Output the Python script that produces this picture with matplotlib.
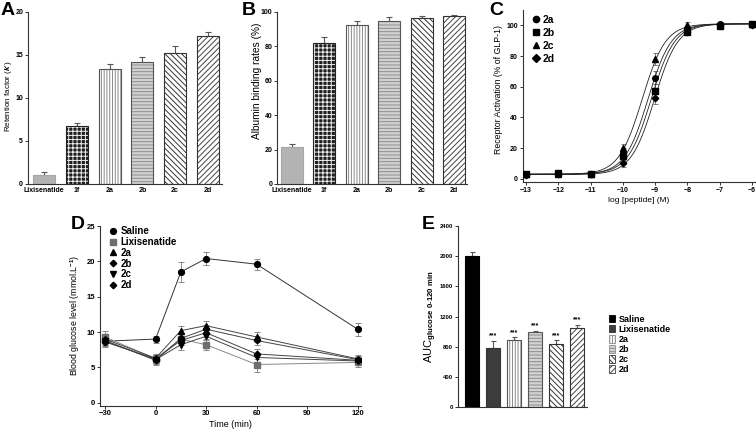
import numpy as np
from matplotlib import pyplot as plt
from matplotlib.patches import Patch
from matplotlib.lines import Line2D

plt.rcParams['font.family'] = ['Liberation Sans', 'DejaVu Sans']
plt.rcParams['font.weight'] = 'bold'
plt.rcParams['mathtext.fontset'] = 'custom'
plt.rcParams['mathtext.rm'] = 'Liberation Sans:bold'
plt.rcParams['mathtext.bf'] = 'Liberation Sans:bold'
plt.rcParams['mathtext.it'] = 'Liberation Sans:italic:bold'
plt.rcParams['mathtext.default'] = 'bf'
plt.rcParams['hatch.linewidth'] = 0.7

# ---- data ----
compounds = ['Lixisenatide', '1f', '2a', '2b', '2c', '2d']
retention = [1.1, 6.8, 13.4, 14.2, 15.2, 17.2]
retention_err = [0.3, 0.3, 0.6, 0.6, 0.9, 0.5]
albumin = [21.5, 82.0, 92.5, 95.0, 96.5, 97.8]
albumin_err = [2.0, 3.5, 2.5, 2.0, 1.0, 0.5]

log_conc = [-13, -12, -11, -10, -9, -8, -7, -6]
act_2a = [3.0, 3.0, 3.0, 17.0, 66.0, 97.0, 101.0, 101.0]
act_2b = [3.5, 4.0, 3.0, 15.0, 57.5, 96.0, 99.5, 101.0]
act_2c = [3.0, 3.0, 3.0, 20.0, 78.0, 100.0, 101.0, 101.0]
act_2d = [2.5, 3.0, 3.0, 10.5, 53.0, 96.0, 100.5, 100.0]
act_err = [1.0, 1.0, 1.0, 3.0, 4.0, 2.0, 1.0, 1.0]
# fitted curve parameters (bottom, top, logEC50, hill)
fit_2a = [3.0, 101.0, -9.22, 1.2]
fit_2b = [3.2, 101.0, -9.12, 1.2]
fit_2c = [3.0, 101.0, -9.40, 1.2]
fit_2d = [2.8, 101.0, -9.02, 1.2]

time_min = [-30, 0, 15, 30, 60, 120]
glu_saline = [8.7, 9.0, 18.5, 20.4, 19.6, 10.4]
glu_saline_err = [0.6, 0.5, 1.4, 0.9, 0.8, 0.9]
glu_lixi = [9.3, 6.2, 9.0, 8.2, 5.4, 5.7]
glu_lixi_err = [0.8, 0.6, 0.8, 0.8, 1.0, 0.6]
glu_2a = [9.0, 6.3, 10.2, 10.9, 9.3, 6.2]
glu_2b = [8.8, 6.0, 9.1, 10.4, 8.8, 6.1]
glu_2c = [8.7, 6.1, 8.2, 9.4, 6.4, 5.9]
glu_2d = [8.6, 6.2, 8.8, 9.9, 6.9, 6.0]
glu_err = [0.7, 0.6, 0.7, 0.6, 0.7, 0.5]

groups = ['Saline', 'Lixisenatide', '2a', '2b', '2c', '2d']
auc = [2000, 780, 890, 990, 835, 1050]
auc_err = [50, 100, 35, 15, 50, 40]

# ---- bar styles: face, hatch, hatch colour, outline ----
styles = {
    'Saline': ('black', None, None, 'black'),
    'Lixisenatide': ('#b3b3b3', None, None, '#a5a5a5'),
    'Lixi_dark': ('#3d3d3d', None, None, '#333333'),
    '1f': ('#1e1e1e', '++++', '#f0f0f0', '#222222'),
    '2a': ('white', '||||||', '#8a8a8a', '#555555'),
    '2b': ('#d2d2d2', '-----', '#8c8c8c', '#555555'),
    '2c': ('white', '\\\\\\\\\\\\', '#333333', '#333333'),
    '2d': ('white', '//////', '#444444', '#333333'),
}


def style_axes(ax):
    for s in ['top', 'right']:
        ax.spines[s].set_visible(False)
    for s in ['left', 'bottom']:
        ax.spines[s].set_linewidth(0.8)
        ax.spines[s].set_color('#333333')
    ax.tick_params(length=2, width=0.7, pad=1.5, color='#333333')


def draw_bars(ax, keys, values, errors, width, capsize):
    x = np.arange(len(values))
    for i, k in enumerate(keys):
        face, hatch, hcol, edge = styles[k]
        if hatch:
            ax.bar(x[i], values[i], width, color=face, edgecolor=hcol, hatch=hatch, linewidth=0, zorder=2)
            ax.bar(x[i], values[i], width, fill=False, edgecolor=edge, linewidth=0.8, zorder=3)
        else:
            ax.bar(x[i], values[i], width, color=face, edgecolor=edge, linewidth=0.8, zorder=2)
    ax.errorbar(x, values, yerr=[np.zeros(len(values)), errors], fmt='none',
                ecolor='#555555', elinewidth=0.8, capsize=capsize, capthick=0.8, zorder=1)
    return x


def logistic(x, p):
    bottom, top, ec50, hill = p
    return bottom + (top - bottom) / (1 + 10 ** ((ec50 - x) * hill))


fig = plt.figure(figsize=(7.56, 4.33), dpi=100)

# ---- A ----
axA = fig.add_axes([0.0370, 0.5751, 0.2566, 0.3972])
x = draw_bars(axA, compounds, retention, retention_err, 0.67, 2.5)
axA.set_xlim(-0.49, 5.43)
axA.set_ylim(0, 20)
axA.set_yticks([0, 5, 10, 15, 20])
axA.set_xticks(x)
axA.set_xticklabels(compounds)
style_axes(axA)
axA.tick_params(axis='x', length=0, pad=2)
axA.tick_params(labelsize=5)
axA.set_ylabel("Retention factor ($\\mathit{k}$')", fontsize=5.8)
axA.yaxis.set_label_coords(-0.072, 0.51)

# ---- B ----
axB = fig.add_axes([0.3664, 0.5751, 0.2513, 0.3972])
x = draw_bars(axB, compounds, albumin, albumin_err, 0.67, 2.5)
axB.set_xlim(-0.45, 5.39)
axB.set_ylim(0, 100)
axB.set_yticks([0, 20, 40, 60, 80, 100])
axB.set_xticks(x)
axB.set_xticklabels(compounds)
style_axes(axB)
axB.tick_params(axis='x', length=0, pad=2)
axB.tick_params(labelsize=5)
axB.set_ylabel('Albumin binding rates (%)', fontsize=7.3)
axB.yaxis.set_label_coords(-0.079, 0.6)

# ---- C ----
axC = fig.add_axes([0.6915, 0.5797, 0.3074, 0.3972])
xs = np.linspace(-13, -6, 300)
c_series = [('2a', act_2a, fit_2a, 'o'), ('2b', act_2b, fit_2b, 's'),
            ('2c', act_2c, fit_2c, '^'), ('2d', act_2d, fit_2d, 'D')]
handles = []
for name, ys, fit, mk in c_series:
    axC.plot(xs, logistic(xs, fit), color='#222222', lw=0.6, zorder=2)
    axC.errorbar(log_conc, ys, yerr=act_err, fmt='none', ecolor='#666666',
                 elinewidth=0.6, capsize=1.8, capthick=0.6, zorder=1)
    ms = 4 if mk != 'D' else 3.3
    axC.plot(log_conc, ys, ls='none', marker=mk, color='black', ms=ms, zorder=3)
    handles.append(Line2D([], [], ls='none', marker=mk, color='black', ms=ms + 0.5))
axC.set_xlim(-13.1, -5.9)
axC.set_ylim(-2, 110)
axC.set_xticks(log_conc)
axC.set_yticks([0, 20, 40, 60, 80, 100])
style_axes(axC)
axC.tick_params(labelsize=5)
axC.set_xlabel('log [peptide] (M)', fontsize=6, labelpad=2)
axC.set_ylabel('Receptor Activation (% of GLP-1)', fontsize=6.3, fontweight='normal')
axC.yaxis.set_label_coords(-0.085, 0.54)
axC.legend(handles, ['2a', '2b', '2c', '2d'], loc='upper left', bbox_to_anchor=(0.02, 0.995),
           frameon=False, fontsize=7.5, handlelength=0.8, handletextpad=0.3,
           labelspacing=0.28, borderaxespad=0)

# ---- D ----
axD = fig.add_axes([0.1323, 0.0635, 0.3452, 0.4145])
d_series = [('Saline', glu_saline, glu_saline_err, 'o', 'black', '#333333', 4.2),
            ('Lixisenatide', glu_lixi, glu_lixi_err, 's', '#6e6e6e', '#8a8a8a', 3.8),
            ('2a', glu_2a, glu_err, '^', 'black', '#444444', 4.0),
            ('2b', glu_2b, glu_err, 'D', 'black', '#444444', 3.3),
            ('2c', glu_2c, glu_err, 'v', 'black', '#444444', 4.0),
            ('2d', glu_2d, glu_err, 'D', 'black', '#444444', 3.3)]
handles = []
for name, ys, es, mk, mc, lc, ms in d_series:
    axD.plot(time_min, ys, color=lc, lw=0.7, zorder=2)
    axD.errorbar(time_min, ys, yerr=es, fmt='none', ecolor='#777777',
                 elinewidth=0.6, capsize=2, capthick=0.6, zorder=1)
    axD.plot(time_min, ys, ls='none', marker=mk, color=mc, ms=ms, zorder=3)
    handles.append(Line2D([], [], ls='none', marker=mk, color=mc, ms=ms))
axD.set_xlim(-33, 122)
axD.set_ylim(-0.4, 25)
axD.set_xticks([-30, 0, 30, 60, 90, 120])
axD.set_yticks([0, 5, 10, 15, 20, 25])
style_axes(axD)
axD.tick_params(labelsize=5.5)
axD.set_xlabel('Time (min)', fontsize=6.5, labelpad=2)
axD.set_ylabel('Blood glucose level (mmol.L$^{-1}$)', fontsize=6.3, labelpad=3)
axD.legend(handles, groups, loc='upper left', bbox_to_anchor=(0.02, 1.02),
           frameon=False, fontsize=7, handlelength=0.8, handletextpad=0.4,
           labelspacing=0.08, borderaxespad=0)

# ---- E ----
axE = fig.add_axes([0.6058, 0.0600, 0.1706, 0.418])
e_keys = ['Saline', 'Lixi_dark', '2a', '2b', '2c', '2d']
x = draw_bars(axE, e_keys, auc, auc_err, 0.68, 1.8)
for i in range(1, len(auc)):
    axE.text(x[i], auc[i] + auc_err[i] + 20, '***', ha='center', va='bottom', fontsize=5)
axE.set_xlim(-0.67, 5.48)
axE.set_ylim(0, 2400)
axE.set_yticks([0, 400, 800, 1200, 1600, 2000, 2400])
axE.set_xticks([])
style_axes(axE)
axE.tick_params(labelsize=4.2)
axE.set_ylabel('AUC$_{glucose\\ 0\\text{-}120\\ min}$', fontsize=8)
axE.yaxis.set_label_coords(-0.145, 0.5)
leg_handles = []
for k in e_keys:
    face, hatch, hcol, edge = styles[k]
    leg_handles.append(Patch(facecolor=face, edgecolor=hcol if hatch else edge, hatch=hatch, linewidth=0.6))
axE.legend(leg_handles, groups, loc='upper left', bbox_to_anchor=(1.14, 0.53),
           frameon=False, fontsize=6.5, handlelength=0.7, handleheight=0.9,
           handletextpad=0.4, labelspacing=0.12, borderaxespad=0)

# ---- panel letters ----
for lab, px, py, fs in [('A', 1, 2, 14), ('B', 242, 2, 14), ('C', 489, 2, 14),
                        ('D', 71, 216, 14), ('E', 422, 216, 14)]:
    fig.text(px / 756, 1 - py / 433, lab, fontsize=fs, fontweight='bold', va='top', ha='left')

fig.savefig('out.png', dpi=100)
